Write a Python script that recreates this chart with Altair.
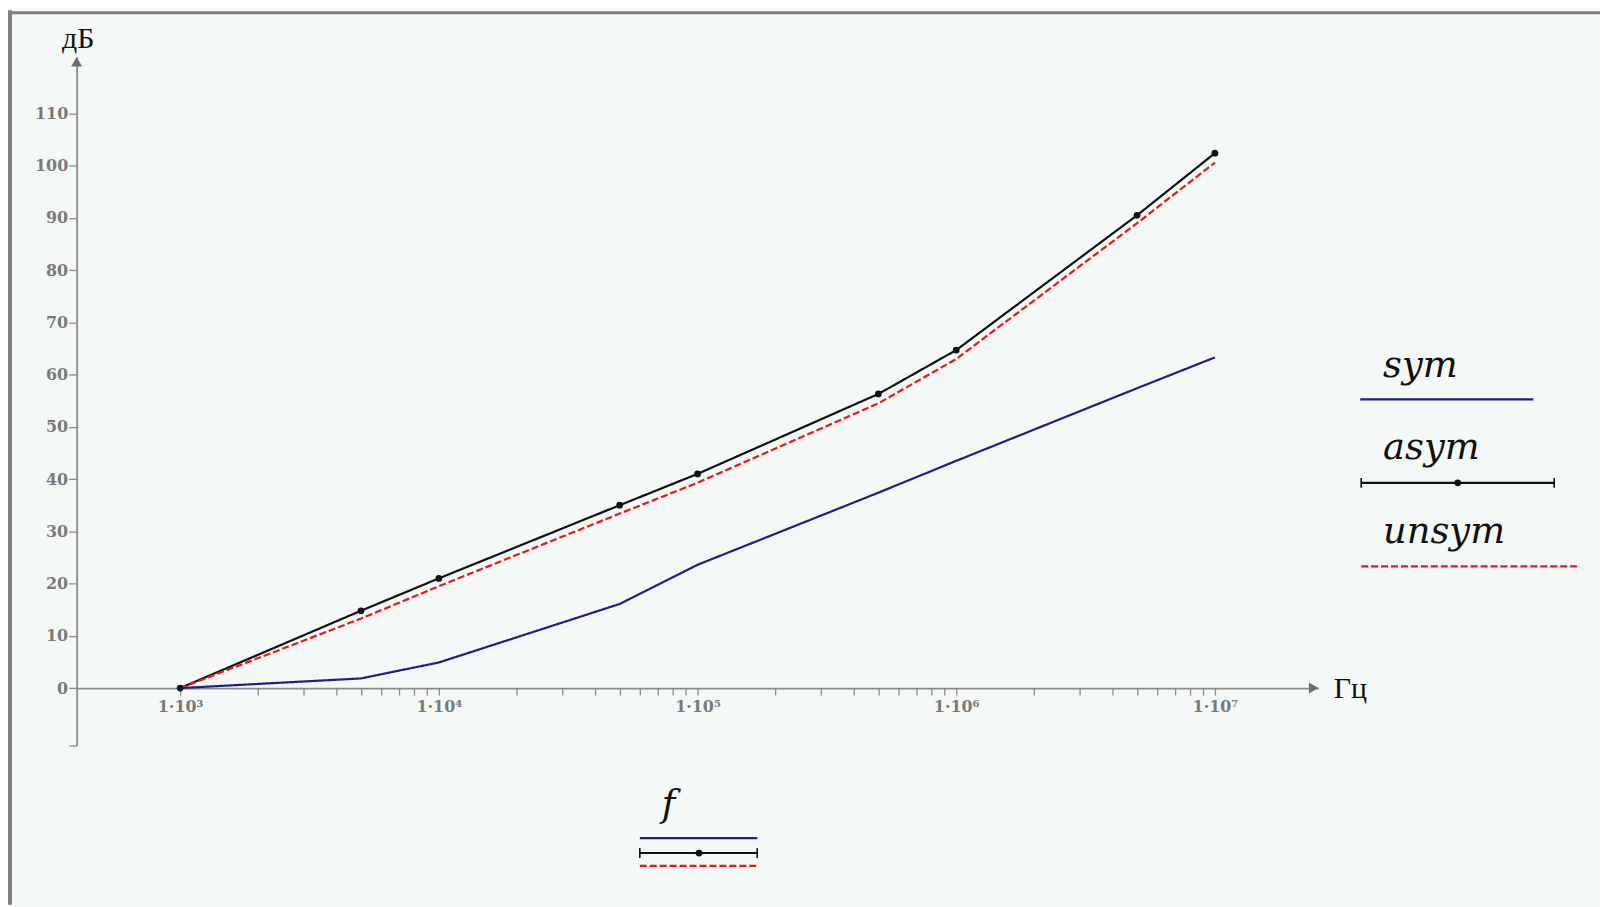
import altair as alt
import pandas as pd

# ---- data ----
freq = [1e3, 5e3, 1e4, 5e4, 1e5, 5e5, 1e6, 5e6, 1e7]
sym = [0.0, 1.85, 4.9, 16.1, 23.6, 37.4, 43.5, 57.4, 63.3]
asym = [0.0, 14.8, 21.0, 35.0, 41.0, 56.3, 64.7, 90.5, 102.4]
unsym = [0.0, 13.3, 19.5, 33.4, 39.3, 54.5, 63.0, 89.0, 100.6]
series_names = ["sym", "asym", "unsym"]
series_colors = ["#1e1e8c", "#111111", "#ee1515"]
y_tick_values = [-11, 0, 10, 20, 30, 40, 50, 60, 70, 80, 90, 100, 110]
x_tick_values = [m * 10 ** e for e in range(3, 7) for m in range(1, 10)] + [10 ** 7]
x_title = "Гц"
y_title = "дБ"

# ---- layout ----
X_MIN, X_MAX = 10 ** 2.6, 10 ** 7.4
Y_MIN, Y_MAX = -11.0, 120.8
W, H = 1248, 692
PAD = {"left": 69, "top": 47, "right": 283, "bottom": 160}
PX_PER_UNIT = H / (Y_MAX - Y_MIN)
X_OFFSET = -(0 - Y_MIN) * PX_PER_UNIT
PX_PER_DEC = W / 4.8

AX = "#8c8c8c"
LBL = "#7a7a7a"
SERIF = "DejaVu Serif"

rows = []
for name, vals in zip(series_names, [sym, asym, unsym]):
    for f, v in zip(freq, vals):
        rows.append({"f": f, "v": v, "s": name})
df = pd.DataFrame(rows)
df_asym = df[df.s == "asym"]

xs = alt.Scale(type="log", domain=[X_MIN, X_MAX], nice=False)
ys = alt.Scale(domain=[Y_MIN, Y_MAX], nice=False, zero=False)

sup = "['⁰','¹','²','³','⁴','⁵','⁶','⁷','⁸','⁹']"
x_label_expr = (
    "abs(log(datum.value)/LN10 - round(log(datum.value)/LN10)) < 0.001 ? "
    "'1·10' + " + sup + "[round(log(datum.value)/LN10)] : ''"
)

x_axis = alt.Axis(
    values=x_tick_values, labelExpr=x_label_expr, offset=X_OFFSET,
    grid=False, tickSize=7, tickColor=AX, tickWidth=1.3,
    domainColor=AX, domainWidth=1.8,
    labelFont=SERIF, labelFontSize=16, labelFontWeight="bold", labelColor=LBL, labelPadding=4,
    labelFlush=False, labelOverlap=False,
    title=x_title, titleAngle=0, titleFont="Liberation Serif", titleFontSize=30,
    titleFontWeight="normal", titleColor="#111111", titleAlign="left",
    titleBaseline="alphabetic", titleX=1263, titleY=9,
)
y_axis = alt.Axis(
    values=y_tick_values, labelExpr="datum.value < 0 ? '' : datum.label",
    grid=False, tickSize=8, tickColor=AX, tickWidth=1.3,
    domainColor=AX, domainWidth=1.8,
    labelFont=SERIF, labelFontSize=16, labelFontWeight="bold", labelColor=LBL, labelPadding=1,
    labelFlush=False, labelOverlap=False,
    title=y_title, titleAngle=0, titleFont="Liberation Serif", titleFontSize=30,
    titleFontWeight="normal", titleColor="#111111", titleAlign="center",
    titleBaseline="alphabetic", titleX=1, titleY=-10,
)

X = alt.X("f:Q", scale=xs, axis=x_axis)
Y = alt.Y("v:Q", scale=ys, axis=y_axis)

lines = alt.Chart(df).mark_line(strokeWidth=2.2).encode(
    x=X, y=Y,
    color=alt.Color("s:N", scale=alt.Scale(domain=series_names, range=series_colors), legend=None),
    strokeDash=alt.StrokeDash("s:N", scale=alt.Scale(domain=series_names, range=[[1, 0], [1, 0], [7, 3]]), legend=None),
)
points = alt.Chart(df_asym).mark_circle(size=46, color="#111111", opacity=1).encode(
    x=alt.X("f:Q", scale=xs), y=alt.Y("v:Q", scale=ys)
)

# axis arrowheads, placed at the ends of the scale domains
tri_h = 4.76
arrows_up = pd.DataFrame({"f": [X_MIN], "v": [Y_MAX - tri_h / PX_PER_UNIT]})
arrows_right = pd.DataFrame({"f": [10 ** (7.4 - tri_h / PX_PER_DEC)], "v": [0.0]})
arr_up = alt.Chart(arrows_up).mark_point(shape="triangle-up", size=121, filled=True, color="#6e6e6e", opacity=1).encode(
    x=alt.X("f:Q", scale=xs), y=alt.Y("v:Q", scale=ys))
arr_right = alt.Chart(arrows_right).mark_point(shape="triangle-right", size=121, filled=True, color="#6e6e6e", opacity=1).encode(
    x=alt.X("f:Q", scale=xs), y=alt.Y("v:Q", scale=ys))

one = pd.DataFrame({"k": [0]})


def hrule(x1, x2, y, color, width=2.2, dash=None):
    kw = dict(color=color, strokeWidth=width)
    if dash:
        kw["strokeDash"] = dash
    return alt.Chart(one).mark_rule(**kw).encode(x=alt.value(x1), x2=alt.value(x2), y=alt.value(y))


def vrule(x, y1, y2, color, width=1.6):
    return alt.Chart(one).mark_rule(color=color, strokeWidth=width).encode(x=alt.value(x), y=alt.value(y1), y2=alt.value(y2))


def dot(x, y):
    return alt.Chart(one).mark_circle(size=46, color="#111111", opacity=1).encode(x=alt.value(x), y=alt.value(y))


def label(x, y, txt, align="left", size=37):
    return alt.Chart(one).mark_text(
        text=txt, font=SERIF, fontStyle="italic", fontSize=size, color="#111111",
        align=align, baseline="alphabetic").encode(x=alt.value(x), y=alt.value(y))


legend = [
    label(1313, 322, "sym"),
    hrule(1290, 1464, 344, series_colors[0]),
    label(1313, 404, "asym"),
    hrule(1291, 1485, 428, series_colors[1]),
    vrule(1291, 423, 433, series_colors[1]), vrule(1485, 423, 433, series_colors[1]),
    dot(1388, 428),
    label(1313, 488, "unsym"),
    hrule(1291, 1511, 512, series_colors[2], dash=[7, 3]),
    label(595, 763, "f", align="center"),
    hrule(566, 684, 785, series_colors[0]),
    hrule(566, 684, 800, series_colors[1]),
    vrule(566, 795, 805, series_colors[1]), vrule(684, 795, 805, series_colors[1]),
    dot(625.5, 800),
    hrule(566, 684, 813, series_colors[2], dash=[7, 3]),
]

frame = [
    alt.Chart(one).mark_rule(color="#808080", strokeWidth=4).encode(
        x=alt.value(-67), y=alt.value(-47), y2=alt.value(H + PAD["bottom"])),
    alt.Chart(one).mark_rule(color="#808080", strokeWidth=3).encode(
        x=alt.value(-69), x2=alt.value(W + PAD["right"]), y=alt.value(-44.5)),
]

chart = alt.layer(lines, points, arr_up, arr_right, *legend, *frame).properties(
    width=W, height=H, padding=PAD,
    autosize=alt.AutoSizeParams(type="none"),
    background="#f4f8f6",
).configure_view(stroke=None)

chart.save("out.html", embed_options={"renderer": "svg", "actions": False})
